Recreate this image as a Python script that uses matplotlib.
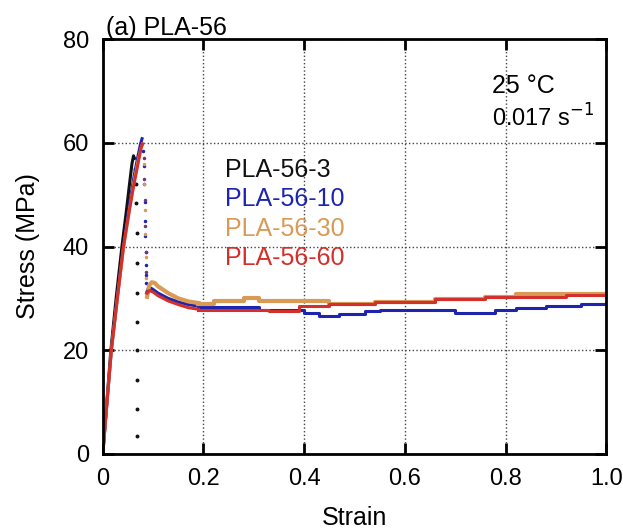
import matplotlib
matplotlib.use("Agg")
import matplotlib.pyplot as plt
import numpy as np

plt.rcParams['font.family'] = ['Liberation Sans', 'DejaVu Sans']

# ---- data ----
# PLA-56-3 : rise, then breaks (scattered points)
s3_rise_x = [0.0, 0.008, 0.016, 0.027, 0.038, 0.047, 0.053, 0.058, 0.061, 0.063]
s3_rise_y = [0.0, 10.0, 20.0, 30.5, 40.0, 47.0, 52.0, 56.0, 57.5, 57.0]
s3_drop_x = [0.064, 0.065, 0.066, 0.067, 0.067, 0.067, 0.067, 0.067, 0.067, 0.067, 0.067]
s3_drop_y = [55.0, 52.0, 48.4, 42.6, 36.8, 31.0, 25.4, 20.0, 14.3, 8.7, 3.5]

# PLA-56-10
s10_rise_x = [0.0, 0.008, 0.017, 0.029, 0.041, 0.052, 0.062, 0.070, 0.075, 0.078]
s10_rise_y = [0.0, 9.5, 20.0, 30.5, 40.0, 47.5, 53.5, 57.5, 59.8, 60.8]
s10_drop_x = [0.080, 0.081, 0.082, 0.083, 0.083, 0.084, 0.085, 0.085, 0.086, 0.086, 0.087]
s10_drop_y = [58.5, 55.5, 52.0, 48.5, 45.0, 42.0, 39.0, 36.5, 34.5, 33.0, 31.5]
s10_hump_x = [0.087, 0.090, 0.095, 0.100, 0.110, 0.130, 0.150, 0.170, 0.190]
s10_hump_y = [31.0, 31.8, 32.0, 31.7, 31.0, 30.0, 29.3, 28.8, 28.5]
s10_step_x = [0.19, 0.31, 0.40, 0.43, 0.47, 0.52, 0.55, 0.70, 0.78, 0.82, 0.88, 0.95, 1.0]
s10_step_y = [28.4, 27.7, 27.2, 26.6, 27.0, 27.5, 27.7, 27.1, 27.7, 28.2, 28.6, 28.9, 28.9]

# PLA-56-30
s30_rise_x = [0.0, 0.008, 0.017, 0.029, 0.041, 0.052, 0.062, 0.070, 0.076, 0.079]
s30_rise_y = [0.0, 9.5, 20.0, 30.0, 39.5, 46.5, 52.5, 56.5, 59.0, 59.8]
s30_drop_x = [0.081, 0.082, 0.083, 0.084, 0.085, 0.086, 0.087]
s30_drop_y = [56.0, 52.0, 47.0, 42.5, 38.0, 34.0, 31.0]
s30_hump_x = [0.088, 0.092, 0.097, 0.103, 0.110, 0.130, 0.150, 0.170, 0.190]
s30_hump_y = [30.3, 32.5, 33.1, 33.0, 32.3, 31.0, 30.0, 29.4, 29.1]
s30_step_x = [0.19, 0.22, 0.28, 0.31, 0.45, 0.54, 0.66, 0.76, 0.82, 1.0]
s30_step_y = [29.0, 29.5, 30.0, 29.5, 28.9, 29.3, 29.8, 30.3, 30.9, 30.9]

# PLA-56-60
s60_rise_x = [0.0, 0.008, 0.017, 0.029, 0.041, 0.052, 0.060, 0.067, 0.072, 0.076, 0.079]
s60_rise_y = [0.0, 9.5, 20.0, 30.0, 40.0, 46.5, 51.0, 54.5, 57.0, 59.0, 59.8]
s60_drop_x = [0.081, 0.082, 0.083, 0.084, 0.085, 0.086, 0.087]
s60_drop_y = [57.0, 53.0, 49.0, 44.0, 39.0, 35.0, 31.5]
s60_hump_x = [0.088, 0.093, 0.100, 0.110, 0.130, 0.150, 0.170, 0.190]
s60_hump_y = [31.0, 31.5, 31.2, 30.5, 29.5, 28.8, 28.2, 27.9]
s60_step_x = [0.19, 0.33, 0.39, 0.45, 0.54, 0.66, 0.76, 0.92, 1.0]
s60_step_y = [27.8, 27.5, 28.5, 28.9, 29.3, 29.8, 30.3, 30.6, 30.6]

labels = ['PLA-56-3', 'PLA-56-10', 'PLA-56-30', 'PLA-56-60']
colors = ['#111111', '#1c24b0', '#d99a55', '#d3302b']

fig = plt.figure(figsize=(6.23, 5.29), dpi=100)
ax = fig.add_axes([0.165, 0.142, 0.808, 0.784])

lw = 2.2
dotc = '#6a3a78'
# black
ax.plot(s3_rise_x, s3_rise_y, color=colors[0], lw=lw)
ax.plot(s3_drop_x, s3_drop_y, ls='none', marker='o', ms=1.8, color=colors[0])
# blue
ax.plot(s10_rise_x, s10_rise_y, color=colors[1], lw=lw)
ax.plot(s10_drop_x, s10_drop_y, ls='none', marker='o', ms=1.5, color=colors[1])
ax.plot(s10_hump_x, s10_hump_y, color=colors[1], lw=lw)
ax.plot(s10_step_x, s10_step_y, color=colors[1], lw=lw, drawstyle='steps-post')
# orange
ax.plot(s30_rise_x, s30_rise_y, color=colors[2], lw=lw)
ax.plot(s30_drop_x, s30_drop_y, ls='none', marker='o', ms=1.5, color=colors[2])
ax.plot(s30_hump_x, s30_hump_y, color=colors[2], lw=lw + 0.8)
ax.plot(s30_step_x, s30_step_y, color=colors[2], lw=lw + 0.8, drawstyle='steps-post')
# red
ax.plot(s60_rise_x, s60_rise_y, color=colors[3], lw=lw)
ax.plot(s60_drop_x, s60_drop_y, ls='none', marker='o', ms=1.5, color=dotc)
ax.plot(s60_hump_x, s60_hump_y, color=colors[3], lw=lw)
ax.plot(s60_step_x, s60_step_y, color=colors[3], lw=lw, drawstyle='steps-post')

ax.set_xlim(0, 1.0)
ax.set_ylim(0, 80)
ax.set_xticks([0, 0.2, 0.4, 0.6, 0.8, 1.0])
ax.set_xticklabels(['0', '0.2', '0.4', '0.6', '0.8', '1.0'])
ax.set_yticks([0, 20, 40, 60, 80])
ax.tick_params(direction='in', length=8, width=2, top=True, right=True,
               labelsize=17)
ax.tick_params(axis='x', pad=10)
ax.tick_params(axis='y', pad=10)
for sp in ax.spines.values():
    sp.set_linewidth(2)
ax.grid(True, ls=':', color='#444444', lw=1)

ax.set_xlabel('Strain', fontsize=18, labelpad=12)
ax.set_ylabel('Stress (MPa)', fontsize=18, labelpad=16)

ax.text(0.006, 1.0096, '(a) PLA-56', transform=ax.transAxes, fontsize=18,
        ha='left', va='baseline')
ax.text(0.773, 0.887, '25 °C', transform=ax.transAxes, fontsize=18,
        ha='left', va='center')
ax.text(0.773, 0.81, '0.017 s$^{-1}$', transform=ax.transAxes, fontsize=17,
        ha='left', va='center')

for i, (lab, c) in enumerate(zip(labels, colors)):
    ax.text(0.243, 0.684 - i * 0.0706, lab, color=c, transform=ax.transAxes,
            fontsize=18, ha='left', va='center')

fig.savefig('out.png', dpi=100)
